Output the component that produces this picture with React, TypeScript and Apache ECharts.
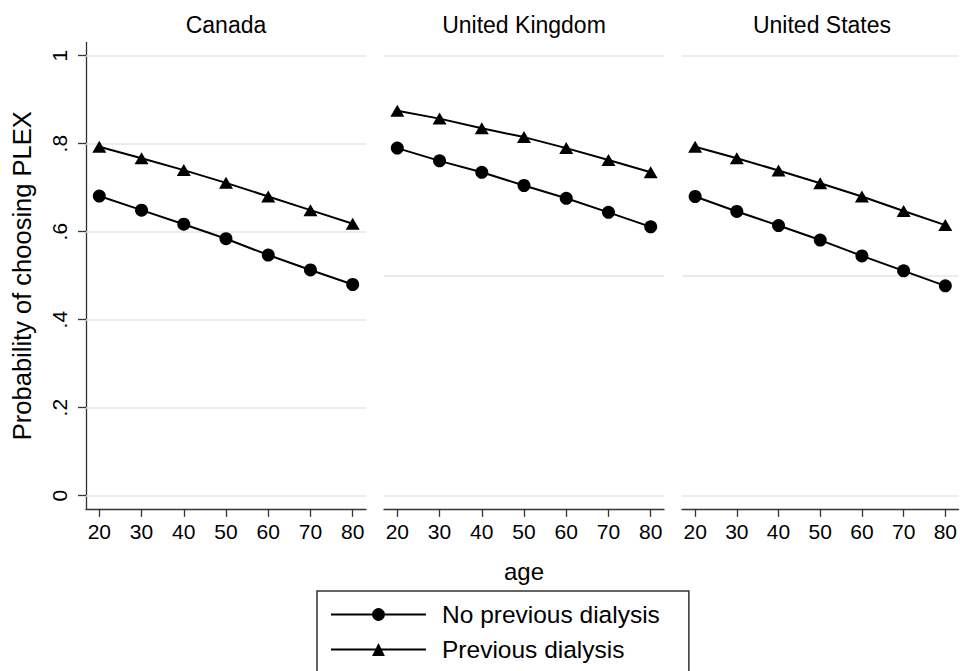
import React, { useEffect, useRef } from "react";
import * as echarts from "echarts";

const panels = ["Canada", "United Kingdom", "United States"];
const ages = [20, 30, 40, 50, 60, 70, 80];
const seriesNames = ["No previous dialysis", "Previous dialysis"];
const canadaNoPrev = [0.681, 0.649, 0.617, 0.584, 0.547, 0.513, 0.48];
const canadaPrev = [0.793, 0.767, 0.74, 0.711, 0.68, 0.649, 0.618];
const ukNoPrev = [0.79, 0.761, 0.735, 0.705, 0.676, 0.644, 0.611];
const ukPrev = [0.875, 0.857, 0.835, 0.815, 0.79, 0.763, 0.735];
const usNoPrev = [0.68, 0.646, 0.614, 0.581, 0.545, 0.511, 0.477];
const usPrev = [0.793, 0.767, 0.739, 0.71, 0.68, 0.647, 0.615];
const yTickValues = [0, 0.2, 0.4, 0.6, 0.8, 1];
const yTickLabels = ["0", ".2", ".4", ".6", ".8", "1"];
const xTickValues = [20, 30, 40, 50, 60, 70, 80];
const panelGridlines = [
  [0, 0.2, 0.4, 0.6, 0.8, 1],
  [0, 0.5, 1],
  [0, 0.5, 1],
];

const FONT = "'Liberation Sans', Arial, Helvetica, sans-serif";

export default function App() {
  const ref = useRef<HTMLDivElement>(null);

  useEffect(() => {
    if (!ref.current) return;
    const chart = echarts.init(ref.current, null, { renderer: "svg" });
    const panelLeft = [86, 384, 682];
    const panelWidth = 280;
    const gridTop = 42.5;
    const gridHeight = 466.4;
    const yMin = -0.03;
    const yMax = 1.03;
    const xMin = 16.85;
    const xMax = 83.15;
    const axisColor = "#333";
    const dataNo = [canadaNoPrev, ukNoPrev, usNoPrev];
    const dataPrev = [canadaPrev, ukPrev, usPrev];

    const grid = panelLeft.map((l) => ({
      left: l,
      top: gridTop,
      width: panelWidth,
      height: gridHeight,
      containLabel: false,
    }));

    const xAxis = panelLeft.map((_, i) => ({
      type: "value",
      gridIndex: i,
      min: xMin,
      max: xMax,
      name: i === 1 ? "age" : "",
      nameLocation: "middle",
      nameGap: 51,
      nameTextStyle: { fontSize: 24, color: "#000", fontFamily: FONT },
      axisLine: { show: true, onZero: false, lineStyle: { color: axisColor, width: 1.3 } },
      axisTick: {
        show: true,
        length: 8,
        customValues: xTickValues,
        lineStyle: { color: axisColor, width: 1.3 },
      },
      axisLabel: {
        show: true,
        customValues: xTickValues,
        margin: 12,
        fontSize: 21,
        color: "#000",
        fontFamily: FONT,
      },
      splitLine: { show: false },
    }));

    const yAxis = panelLeft.map((_, i) => ({
      type: "value",
      gridIndex: i,
      min: yMin,
      max: yMax,
      name: i === 0 ? "Probability of choosing PLEX" : "",
      nameLocation: "middle",
      nameRotate: 90,
      nameGap: 51,
      nameTextStyle: { fontSize: 25.5, color: "#000", fontFamily: FONT },
      axisLine: { show: i === 0, onZero: false, lineStyle: { color: axisColor, width: 1.3 } },
      axisTick: {
        show: i === 0,
        length: 8,
        customValues: yTickValues,
        lineStyle: { color: axisColor, width: 1.3 },
      },
      axisLabel: {
        show: i === 0,
        customValues: yTickValues,
        rotate: 90,
        margin: 16,
        fontSize: 21,
        color: "#000",
        fontFamily: FONT,
        formatter: (v: number) => {
          const idx = yTickValues.findIndex((t) => Math.abs(t - v) < 1e-9);
          return idx >= 0 ? yTickLabels[idx] : "";
        },
      },
      splitLine: { show: false },
    }));

    const series: any[] = [];
    panels.forEach((_, i) => {
      series.push({
        name: seriesNames[0],
        type: "line",
        xAxisIndex: i,
        yAxisIndex: i,
        z: 3,
        data: ages.map((a, k) => [a, dataNo[i][k]]),
        symbol: "circle",
        symbolSize: 13,
        showSymbol: true,
        lineStyle: { color: "#000", width: 2 },
        itemStyle: { color: "#000" },
        emphasis: { disabled: true },
        markLine: {
          silent: true,
          z: 1,
          symbol: ["none", "none"],
          label: { show: false },
          lineStyle: { color: "#e6e6e6", width: 1.5, type: "solid" },
          emphasis: { disabled: true },
          data: panelGridlines[i].map((v) => ({ yAxis: v })),
        },
      });
      series.push({
        name: seriesNames[1],
        type: "line",
        xAxisIndex: i,
        yAxisIndex: i,
        z: 3,
        data: ages.map((a, k) => [a, dataPrev[i][k]]),
        symbol: "triangle",
        symbolSize: [14, 12],
        showSymbol: true,
        lineStyle: { color: "#000", width: 2 },
        itemStyle: { color: "#000" },
        emphasis: { disabled: true },
      });
    });

    const graphic = panels.map((p, i) => ({
      type: "text",
      x: panelLeft[i] + panelWidth / 2,
      y: 25,
      style: {
        text: p,
        align: "center",
        verticalAlign: "middle",
        fontSize: 23,
        fill: "#000",
        fontFamily: FONT,
      },
    }));

    chart.setOption({
      animation: false,
      backgroundColor: "#fff",
      textStyle: { fontFamily: FONT },
      grid,
      xAxis,
      yAxis,
      series,
      graphic,
      legend: {
        data: seriesNames,
        orient: "vertical",
        left: 317,
        top: 591,
        height: 75,
        itemWidth: 95,
        itemHeight: 16,
        itemGap: 10,
        padding: [11, 29, 16, 13],
        borderColor: "#333",
        borderWidth: 1.5,
        selectedMode: false,
        textStyle: { fontSize: 24.5, color: "#000", fontFamily: FONT, padding: [0, 0, 0, 11] },
      },
    });

    return () => chart.dispose();
  }, []);

  return (
    <div
      ref={ref}
      style={{ position: "absolute", left: 0, top: 0, width: 960, height: 671, background: "#fff" }}
    />
  );
}
